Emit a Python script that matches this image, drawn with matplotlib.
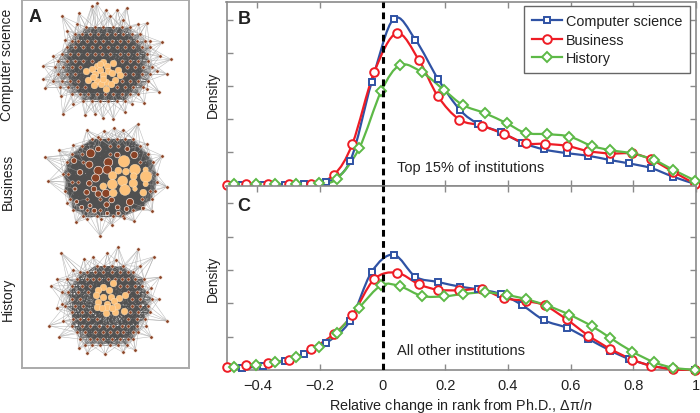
import numpy as np
import matplotlib
matplotlib.use("Agg")
import matplotlib.pyplot as plt
from matplotlib.path import Path
from matplotlib.patches import PathPatch
from matplotlib.lines import Line2D
from matplotlib.collections import LineCollection

plt.rcParams['font.family'] = ['Liberation Sans', 'DejaVu Sans']
plt.rcParams['mathtext.fontset'] = 'custom'
plt.rcParams['mathtext.rm'] = 'Liberation Sans'
plt.rcParams['mathtext.it'] = 'Liberation Sans:italic'

################################################################################
# density curves, values

series_names = ["Computer science", "Business", "History"]

cs_x = [-0.45,-0.38,-0.31,-0.25,-0.18,-0.104,-0.035,0.035,0.105,0.177,0.247,0.306,
        0.377,0.446,0.516,0.587,0.657,0.727,0.787,0.857,0.927,0.998]
bus_x = [-0.496,-0.436,-0.365,-0.298,-0.227,-0.155,-0.096,-0.027,0.045,0.116,0.176,0.245,
         0.316,0.386,0.456,0.517,0.587,0.657,0.727,0.797,0.857,0.927,0.998]
his_x = [-0.475,-0.405,-0.344,-0.275,-0.204,-0.147,-0.075,-0.004,0.056,0.126,0.196,0.256,
         0.327,0.396,0.456,0.526,0.596,0.667,0.727,0.797,0.867,0.927,0.998]

top_cs = [.02,.02,.02,.04,.10,.73,3.11,5.02,4.39,3.21,2.28,1.86,
          1.61,1.29,1.09,.98,.90,.77,.67,.53,.27,.05]
top_bus = [.02,.04,.04,.04,.05,.33,1.27,3.41,4.59,3.78,2.70,1.99,
           1.81,1.56,1.28,1.26,1.20,1.04,.97,.97,.79,.42,.05]
top_his = [.05,.05,.05,.05,.07,.20,1.12,2.85,3.63,3.41,2.88,2.43,
           2.18,1.88,1.59,1.55,1.48,1.20,1.07,.97,.77,.48,.15]

rest_cs = [.05,.13,.28,.48,.81,1.47,2.94,3.46,2.80,2.64,2.50,2.42,
           2.28,1.94,1.49,1.27,.93,.58,.33,.13,.03,0]
rest_bus = [.10,.15,.21,.31,.63,1.08,1.66,2.72,2.92,2.57,2.41,2.39,
            2.42,2.16,2.07,1.94,1.52,1.03,.63,.31,.13,.02,0]
rest_his = [.10,.16,.24,.38,.69,1.11,1.87,2.54,2.51,2.22,2.21,2.28,
            2.33,2.25,2.13,1.93,1.66,1.32,.96,.55,.23,.07,0]

x_ticks = [-0.4,-0.2,0,0.2,0.4,0.6,0.8,1]
x_tick_labels = ["\u22120.4","\u22120.2","0","0.2","0.4","0.6","0.8","1"]
y_ticks = [1,2,3,4,5]

################################################################################
# networks of panel A, read node by node in 3x picture units

# rows are (y, [x, x, ...])
cs_rows = [(85,[258,285,310,340,365,390]),
           (105,[225,245,270,295,320,345,370,395,420]),
           (125,[215,235,260,285,310,335,360,385,410,435]),
           (145,[200,225,250,275,300,325,350,375,400,425,450]),
           (165,[185,210,235,260,285,305,330,360,385,410,440]),
           (185,[175,200,225,250,275,365,390,415,445]),
           (205,[165,190,215,240,380,405,430,455]),
           (225,[175,200,225,375,400,425,450]),
           (245,[160,185,210,235,365,390,415,445]),
           (265,[180,205,230,255,350,375,400,430]),
           (285,[215,240,265,290,315,340,365,390,415]),
           (305,[250,275,300,325,350,375])]
cs_outer = [(290,13),(186,52),(236,42),(275,22),(317,32),(352,32),(380,26),(440,72),
            (487,130),(513,181),(500,225),(477,278),(433,311),(396,314),(375,340),
            (340,360),(308,357),(285,345),(255,348),(188,344),(219,314),(183,292),
            (135,266),(130,241),(130,200),(160,172),(200,95),(195,122),(230,75),
            (330,50),(368,62),(415,75),(450,125),(480,170),(470,215),(440,270)]
cs_core = [(310,188),(290,200),(320,200),(338,192),(275,210),(300,212),(325,215),(355,212),
           (257,215),(285,225),(310,228),(335,222),(265,243),(290,245),(318,250),(345,243),
           (360,227),(283,258),(302,255),(333,255),(318,270),(300,195),(280,235),(308,240)]

bus_rows = [(420,[275,300,325,350,375,400]),
            (440,[245,330,355,420]),
            (465,[215,245,330,445]),
            (490,[200,250,420,460]),
            (525,[190,205,450,470]),
            (550,[235,215,470]),
            (575,[195,450,465]),
            (600,[210,260,300,425,455]),
            (632,[220,300,260,400]),
            (650,[250,290,340,370])]
bus_outer = [(413,375),(342,387),(370,392),(260,394),(312,395),(295,415),(440,435),
             (177,454),(135,475),(487,470),(500,563),(145,547),(220,437),
             (300,710),(227,670),(260,660),(335,677),(403,667),(455,636),(373,657),
             (303,660),(200,612)]
bus_big = [(272,463,22),(295,450,14),(325,490,22),(295,515,22),(322,512,22),(268,497,18),
           (287,537,20),(403,468,18),(352,468,14),(382,450,12),(222,485,14),(240,520,14),
           (268,553,14),(318,583,20),(282,570,14),(295,585,16),(260,580,14),(225,570,10),
           (390,609,18),(320,617,14),(353,625,12),(283,635,12),(335,603,14),(270,620,10),
           (230,608,10),(380,630,12),(322,643,10),(355,643,10),(245,625,10),(430,628,10)]
bus_core = [(372,487,30),(405,512,28),(378,518,18),(437,512,14),(355,515,18),(338,530,22),
            (368,546,26),(401,532,18),(438,533,30),(337,556,26),(310,562,18),(400,553,22),
            (375,573,28),(437,555,14),(340,582,20),(430,581,18),(405,570,12)]

his_rows = [(800,[290,313,335,370]),
            (820,[240,262,285,310,335,360,385,400]),
            (840,[200,232,260,280,297,325,345,367,385,405,432]),
            (860,[215,245,270,360,380,405,425]),
            (880,[185,205,235,265,385,410,440]),
            (900,[215,240,395,420,455]),
            (920,[195,225,250,395,420,445]),
            (940,[215,245,270,390,415,450]),
            (960,[220,240,265,290,385,410,435]),
            (980,[215,245,270,297,320,340,365,385,410]),
            (1000,[230,255,285,310,330,350,370,400,415]),
            (1020,[240,270,290,310,335,360,385,400]),
            (1038,[255,275,300,330,355,380])]
his_outer = [(354,743),(415,751),(462,773),(479,835),(477,901),(502,966),(453,1013),
             (406,1053),(369,1060),(315,1066),(262,1063),(236,1047),(177,1013),(146,980),
             (170,928),(152,861),(171,841),(184,761),(252,779),(279,775),(322,763),
             (348,782),(420,802),(452,867),(438,980),(190,965),(186,916),(218,813)]
his_core = [(340,853),(310,864),(295,873),(327,873),(288,888),(375,887),(310,893),(332,893),
            (358,896),(295,908),(342,905),(320,915),(352,920),(290,924),(320,925),(305,927),
            (318,941),(346,938),(372,937),(335,928)]

################################################################################

BLUE = "#2f52a4"
RED = "#ee1c25"
GREEN = "#5db947"
AXIS = "#8a8a8a"
BROWN = "#8a4326"
ORANGE = "#fdc27b"
HALO = "#f3e3da"
TEXT = "#222222"

def flatten(rows):
  return [(x,y) for y,xs in rows for x in xs]

# size from a diameter in 3x picture units
def area(d):
  return (np.asarray(d,dtype=float)/3.*0.72)**2

def smooth_path(x,y):
  p = np.column_stack([x,y])
  verts = [p[0]]
  codes = [Path.MOVETO]
  n = len(p)
  for i in range(n-1):
    a = p[max(i-1,0)]
    b = p[min(i+2,n-1)]
    verts += [p[i]+(p[i+1]-a)/6., p[i+1]-(b-p[i])/6., p[i+1]]
    codes += [Path.CURVE4]*3
  return Path(verts,codes)

# inner nodes tie to everything close by, outer ones only to their nearest few
# links far from the middle get lighter so the dark part has a soft round edge
def draw_net(ax,inner,outer,big,core,radius,rim,reach=6,core_d=20,core_scale=1.):
  big_xy = [b[:2] for b in big]
  core_xy = [c[:2] for c in core]
  pts = np.array(list(inner)+big_xy+core_xy,dtype=float)
  out = np.array(outer,dtype=float)
  mid = np.vstack([pts,out]).mean(axis=0)
  dark = []
  light = []
  for i in range(len(pts)):
    for j in range(i+1,len(pts)):
      if np.hypot(*(pts[i]-pts[j])) < radius:
        if np.hypot(*((pts[i]+pts[j])/2.-mid)) < rim:
          dark.append([pts[i],pts[j]])
        else:
          light.append([pts[i],pts[j]])
  ax.add_collection(LineCollection(dark,colors="#505050",linewidths=0.7,alpha=0.75,zorder=1))
  ax.add_collection(LineCollection(light,colors="#777777",linewidths=0.4,alpha=0.5,zorder=1))
  spikes = []
  for p in out:
    dist = np.hypot(*(pts-p).T)
    for k in np.argsort(dist)[:reach]:
      spikes.append([p,pts[k]])
  ax.add_collection(LineCollection(spikes,colors="#a0a0a0",linewidths=0.4,alpha=0.7,zorder=1))
  small = np.array(list(inner)+list(outer),dtype=float)
  ax.scatter(small[:,0],small[:,1],s=area(10),c=BROWN,edgecolors=HALO,linewidths=0.35,zorder=2)
  if len(big):
    b = np.array(big,dtype=float)
    ax.scatter(b[:,0],b[:,1],s=area(b[:,2]*1.2),c=BROWN,edgecolors=HALO,linewidths=0.5,zorder=2)
  c = np.array(core,dtype=float)
  d = c[:,2]*core_scale if c.shape[1] > 2 else core_d
  ax.scatter(c[:,0],c[:,1],s=area(d),c=ORANGE,edgecolors="#ffe6c4",linewidths=0.3,zorder=3)

def panel(ax,curves,letter,label,letter_y,label_y):
  for (x,y,color,marker,ms) in curves:
    ax.add_patch(PathPatch(smooth_path(x,y),fill=False,edgecolor=color,linewidth=1.6,
                           clip_on=False,zorder=3))
    ax.plot(x,y,linestyle="none",marker=marker,markersize=ms,markerfacecolor="white",
            markeredgecolor=color,markeredgewidth=1.4,clip_on=False,zorder=4)
  ax.axvline(0,color="black",linewidth=2.2,dashes=(2.2,1.45),zorder=5)
  ax.set_xlim(-0.498,1.)
  ax.set_ylim(0,5.53)
  ax.set_xticks(x_ticks)
  ax.set_yticks(y_ticks)
  ax.set_yticklabels([])
  ax.tick_params(direction="in",top=True,right=True,length=4,width=1,color=AXIS,
                 labelsize=10.5,labelcolor=TEXT,pad=6)
  for s in ax.spines.values():
    s.set_color(AXIS)
    s.set_linewidth(1.2)
  ax.set_ylabel("Density",fontsize=10,color=TEXT,labelpad=-1)
  ax.text(-0.463,letter_y,letter,fontsize=13,fontweight="bold",color=TEXT,va="center",ha="left")
  ax.text(0.045,label_y,label,fontsize=10.5,color=TEXT,va="center",ha="left")

################################################################################

fig = plt.figure(figsize=(7,4.14),dpi=100)
W,H = 700.,414.

ax_a = fig.add_axes([22.3/W,1-369/H,(189-22.3)/W,368/H])
ax_a.set_xlim(67,567)
ax_a.set_ylim(1107,3)
ax_a.set_xticks([])
ax_a.set_yticks([])
for s in ax_a.spines.values():
  s.set_color("#aaaaaa")
  s.set_linewidth(1.4)
draw_net(ax_a,flatten(cs_rows),cs_outer,[],cs_core,75,115)
draw_net(ax_a,flatten(bus_rows),bus_outer,bus_big,bus_core,130,125,reach=8,core_scale=1.15)
draw_net(ax_a,flatten(his_rows),his_outer,[],his_core,75,115)
ax_a.text(105,52,"A",fontsize=13,fontweight="bold",color=TEXT,ha="center",va="center")
for name,yy in [("Computer science",65),("Business",182),("History",299)]:
  fig.text(7.5/W,1-yy/H,name,rotation=90,fontsize=10,color=TEXT,ha="center",va="center")

ax_b = fig.add_axes([226.5/W,1-186.7/H,(696-226.5)/W,183.7/H],zorder=1)
ax_c = fig.add_axes([226.5/W,1-371/H,(696-226.5)/W,184.3/H],zorder=2)

panel(ax_b,[(cs_x,top_cs,BLUE,"s",4.8),(bus_x,top_bus,RED,"o",6.2),(his_x,top_his,GREEN,"D",4.6)],
      "B","Top 15% of institutions",5.02,0.56)
panel(ax_c,[(cs_x,rest_cs,BLUE,"s",4.8),(bus_x,rest_bus,RED,"o",6.2),(his_x,rest_his,GREEN,"D",4.6)],
      "C","All other institutions",4.95,0.6)
ax_b.set_xticklabels([])
ax_c.set_xticklabels(x_tick_labels)
ax_c.set_xlabel("Relative change in rank from Ph.D., \u0394\u03c0/$n$",fontsize=10.4,color=TEXT,labelpad=3)

handles = [Line2D([],[],color=BLUE,marker="s",markersize=4.8,markerfacecolor="white",markeredgewidth=1.4,linewidth=1.6),
           Line2D([],[],color=RED,marker="o",markersize=6.2,markerfacecolor="white",markeredgewidth=1.4,linewidth=1.6),
           Line2D([],[],color=GREEN,marker="D",markersize=4.6,markerfacecolor="white",markeredgewidth=1.4,linewidth=1.6)]
leg = ax_b.legend(handles,series_names,loc="upper right",bbox_to_anchor=(690/W,1-7.3/H),
                  bbox_transform=fig.transFigure,borderaxespad=0,fontsize=10.4,fancybox=False,
                  framealpha=1,edgecolor="#666666",handlelength=2.1,labelspacing=0.3,
                  handletextpad=0.25,borderpad=0.55,labelcolor=TEXT)
leg.get_frame().set_linewidth(1.0)
leg.set_zorder(10)

fig.savefig("out.png",dpi=100)
